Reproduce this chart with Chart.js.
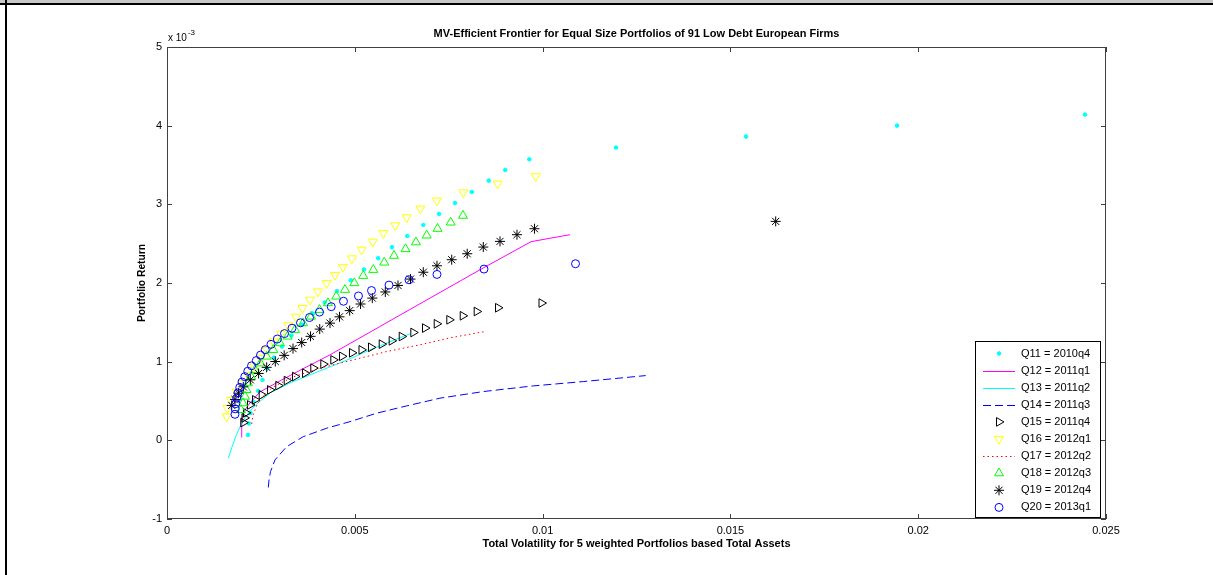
<!DOCTYPE html>
<html>
<head>
<meta charset="utf-8">
<script src="https://cdn.jsdelivr.net/npm/chart.js@4/dist/chart.umd.min.js"></script>
<style>
  html, body { margin: 0; padding: 0; background: #fff; }
  #wrap { position: relative; width: 1213px; height: 575px; overflow: hidden; }
  #topbar { position: absolute; left: 0; top: 0; width: 1213px; height: 3px; background: #c8c8c8; border-bottom: 2px solid #000; }
  #leftrule { position: absolute; left: 5px; top: 0; width: 2px; height: 575px; background: #000; }
  canvas { position: absolute; left: 0; top: 0; }
</style>
</head>
<body>
<div id="wrap">
  <canvas id="frontier" width="1213" height="575"></canvas>
  <div id="topbar"></div>
  <div id="leftrule"></div>
</div>
<script>
const TITLE = 'MV-Efficient Frontier for Equal Size Portfolios of 91 Low Debt European Firms';
const X_LABEL = 'Total Volatility for 5 weighted Portfolios based Total Assets';
const Y_LABEL = 'Portfolio Return';

const xTicks = [0, 0.005, 0.01, 0.015, 0.02, 0.025];
const yTicks = [-1, 0, 1, 2, 3, 4, 5];

const labels = ['Q11 = 2010q4', 'Q12 = 2011q1', 'Q13 = 2011q2', 'Q14 = 2011q3', 'Q15 = 2011q4',
                'Q16 = 2012q1', 'Q17 = 2012q2', 'Q18 = 2012q3', 'Q19 = 2012q4', 'Q20 = 2013q1'];

// volatility and return, both in units of 1e-3
const volQ11 = [2.157, 2.183, 2.223, 2.303, 2.423, 2.543, 2.662, 2.849, 3.062, 3.315, 3.594, 3.887, 4.199, 4.526, 4.891,
                5.245, 5.623, 5.990, 6.398, 6.824, 7.242, 7.668, 8.112, 8.565, 9.007, 9.646, 11.954, 15.415, 19.436, 24.441];
const retQ11 = [0.069, 0.215, 0.349, 0.489, 0.629, 0.769, 0.912, 1.052, 1.192, 1.332, 1.472, 1.612, 1.752, 1.897, 2.035,
                2.172, 2.315, 2.455, 2.597, 2.737, 2.877, 3.017, 3.157, 3.301, 3.437, 3.572, 3.721, 3.861, 4.001, 4.141];

const volQ12 = [1.989, 1.989, 1.997, 2.077, 2.210, 2.476, 3.009, 3.541, 4.340, 5.138, 6.203, 7.268, 8.333, 9.132, 9.691, 10.197, 10.730];
const retQ12 = [0.037, 0.158, 0.285, 0.387, 0.476, 0.616, 0.756, 0.890, 1.087, 1.303, 1.592, 1.880, 2.168, 2.378, 2.525, 2.569, 2.614];

const volQ13 = [1.632, 1.731, 1.837, 1.944, 2.077, 2.210, 2.423, 2.742, 3.275, 3.807, 4.340, 4.872, 5.405, 5.937, 6.470];
const retQ13 = [-0.228, -0.084, 0.056, 0.171, 0.285, 0.374, 0.476, 0.603, 0.730, 0.832, 0.934, 1.036, 1.150, 1.252, 1.354];

const volQ14 = [2.697, 2.716, 2.756, 2.875, 3.187, 3.629, 4.252, 4.872, 5.583, 6.382, 7.268, 8.421, 9.752, 11.084, 12.745];
const retQ14 = [-0.599, -0.504, -0.398, -0.249, -0.080, 0.047, 0.154, 0.238, 0.345, 0.438, 0.536, 0.620, 0.692, 0.747, 0.823];

const volQ15 = [2.031, 2.063, 2.103, 2.210, 2.343, 2.521, 2.742, 2.963, 3.187, 3.408, 3.674, 3.895, 4.161, 4.428, 4.659,
                4.925, 5.178, 5.431, 5.716, 5.982, 6.249, 6.558, 6.869, 7.181, 7.516, 7.873, 8.245, 8.813, 9.971];
const retQ15 = [0.225, 0.285, 0.349, 0.450, 0.514, 0.578, 0.641, 0.696, 0.760, 0.811, 0.854, 0.918, 0.968, 1.023, 1.068,
                1.112, 1.150, 1.182, 1.223, 1.265, 1.320, 1.371, 1.427, 1.481, 1.532, 1.583, 1.638, 1.685, 1.745];

const volQ16 = [1.589, 1.611, 1.704, 1.850, 1.997, 2.157, 2.316, 2.489, 2.662, 2.835, 3.035, 3.222, 3.435, 3.608, 3.807,
                4.020, 4.252, 4.473, 4.686, 4.925, 5.184, 5.479, 5.759, 6.078, 6.382, 6.744, 7.188, 7.889, 8.805, 9.816];
const retQ16 = [0.302, 0.408, 0.514, 0.620, 0.727, 0.832, 0.938, 1.045, 1.150, 1.256, 1.354, 1.462, 1.570, 1.681, 1.787,
                1.892, 1.999, 2.101, 2.204, 2.312, 2.423, 2.525, 2.633, 2.732, 2.834, 2.945, 3.047, 3.152, 3.263, 3.356];

const volQ17 = [2.255, 2.290, 2.396, 2.529, 2.830, 3.363, 4.073, 4.960, 5.849, 6.736, 7.535, 8.466];
const retQ17 = [0.209, 0.323, 0.450, 0.552, 0.680, 0.807, 0.918, 1.023, 1.129, 1.214, 1.303, 1.383];

const volQ18 = [1.970, 2.023, 2.077, 2.117, 2.157, 2.236, 2.343, 2.489, 2.654, 2.830, 3.009, 3.208, 3.408, 3.621, 3.834,
                4.060, 4.286, 4.507, 4.739, 4.987, 5.226, 5.493, 5.783, 6.044, 6.350, 6.629, 6.914, 7.202, 7.553, 7.881];
const retQ18 = [0.387, 0.472, 0.556, 0.641, 0.727, 0.811, 0.896, 0.979, 1.065, 1.150, 1.236, 1.320, 1.405, 1.490, 1.574,
                1.659, 1.745, 1.829, 1.914, 1.999, 2.092, 2.168, 2.261, 2.347, 2.432, 2.518, 2.605, 2.690, 2.770, 2.856];

const volQ19 = [1.723, 1.810, 1.904, 2.031, 2.218, 2.439, 2.654, 2.883, 3.120, 3.355, 3.586, 3.821, 4.066, 4.340, 4.593,
                4.864, 5.152, 5.466, 5.812, 6.150, 6.483, 6.824, 7.188, 7.580, 7.993, 8.421, 8.866, 9.318, 9.784, 16.206];
const retQ19 = [0.444, 0.520, 0.599, 0.680, 0.769, 0.850, 0.928, 1.002, 1.080, 1.166, 1.243, 1.322, 1.414, 1.490, 1.570,
                1.649, 1.733, 1.808, 1.886, 1.969, 2.050, 2.137, 2.219, 2.296, 2.372, 2.457, 2.529, 2.614, 2.690, 2.783];

const volQ20 = [1.810, 1.816, 1.832, 1.856, 1.890, 1.938, 1.997, 2.071, 2.151, 2.250, 2.378, 2.489, 2.617, 2.769, 2.937,
                3.128, 3.328, 3.554, 3.794, 4.060, 4.372, 4.699, 5.098, 5.445, 5.911, 6.443, 7.188, 8.440, 10.876];
const retQ20 = [0.331, 0.400, 0.467, 0.536, 0.604, 0.673, 0.741, 0.809, 0.878, 0.947, 1.014, 1.083, 1.152, 1.220, 1.288,
                1.357, 1.425, 1.494, 1.561, 1.630, 1.699, 1.768, 1.835, 1.904, 1.973, 2.041, 2.109, 2.177, 2.245];

const vols = [volQ11, volQ12, volQ13, volQ14, volQ15, volQ16, volQ17, volQ18, volQ19, volQ20];
const rets = [retQ11, retQ12, retQ13, retQ14, retQ15, retQ16, retQ17, retQ18, retQ19, retQ20];

// marker / line look for each quarter
const styles = [
  { color: '#00ffff', point: 'circle', radius: 1.8, filled: true },
  { color: '#ff00ff', dash: [] },
  { color: '#00ffff', dash: [] },
  { color: '#0000ff', dash: [8, 4] },
  { color: '#000000', point: 'triangle', rotation: 90, radius: 5 },
  { color: '#ffff00', point: 'triangle', rotation: 180, radius: 5.2 },
  { color: '#ff0000', dash: [1.5, 3] },
  { color: '#00ff00', point: 'triangle', rotation: 0, radius: 5.2 },
  { color: '#000000', point: 'star', radius: 5 },
  { color: '#0000ff', point: 'circle', radius: 4 }
];

const FONT = '"Liberation Sans", Arial, sans-serif';
const TICK = 5;

const datasets = labels.map((label, i) => {
  const st = styles[i];
  const base = {
    label,
    data: vols[i].map((v, k) => ({ x: v / 1000, y: rets[i][k] })),
    order: labels.length - i
  };
  if (st.dash) {
    return { ...base, showLine: true, pointRadius: 0, borderColor: st.color, borderWidth: 1, borderDash: st.dash, fill: false };
  }
  const bg = st.filled ? st.color : 'rgba(0,0,0,0)';
  return {
    ...base, showLine: false,
    pointStyle: st.point, pointRotation: st.rotation || 0, pointRadius: st.radius,
    borderColor: st.color, backgroundColor: bg,
    pointBorderColor: st.color, pointBackgroundColor: bg, pointBorderWidth: 1
  };
});

function drawMarker(ctx, st, x, y) {
  ctx.strokeStyle = st.color;
  ctx.fillStyle = st.filled ? st.color : 'rgba(0,0,0,0)';
  ctx.lineWidth = 1;
  Chart.helpers.drawPoint(ctx, { pointStyle: st.point, rotation: st.rotation || 0, radius: st.radius, borderWidth: 1 }, x, y);
}

// axes box, inward ticks, titles and the legend in the lower right
const matlabFrame = {
  id: 'matlabFrame',
  afterDraw(chart) {
    const { ctx, chartArea: a, scales: { x, y } } = chart;
    ctx.save();

    ctx.strokeStyle = '#404040';
    ctx.lineWidth = 1;
    ctx.strokeRect(a.left + 0.5, a.top + 0.5, a.right - a.left - 1, a.bottom - a.top - 1);
    ctx.beginPath();
    xTicks.forEach(v => {
      const px = Math.round(x.getPixelForValue(v)) + 0.5;
      ctx.moveTo(px, a.bottom); ctx.lineTo(px, a.bottom - TICK);
      ctx.moveTo(px, a.top); ctx.lineTo(px, a.top + TICK);
    });
    yTicks.forEach(v => {
      const py = Math.round(y.getPixelForValue(v)) + 0.5;
      ctx.moveTo(a.left, py); ctx.lineTo(a.left + TICK, py);
      ctx.moveTo(a.right, py); ctx.lineTo(a.right - TICK, py);
    });
    ctx.stroke();

    ctx.fillStyle = '#000';
    const cx = (a.left + a.right) / 2;
    ctx.textAlign = 'center';
    ctx.textBaseline = 'middle';
    ctx.font = 'bold 11px ' + FONT;
    ctx.fillText(TITLE, cx, 34, 430);
    ctx.fillText(X_LABEL, cx, 544, 327);
    ctx.save();
    ctx.translate(142, (a.top + a.bottom) / 2);
    ctx.rotate(-Math.PI / 2);
    ctx.fillText(Y_LABEL, 0, 0, 78);
    ctx.restore();

    // axis multiplier
    ctx.textAlign = 'left';
    ctx.textBaseline = 'alphabetic';
    ctx.font = '10px ' + FONT;
    ctx.fillText('x 10', a.left + 1, 41);
    const w = ctx.measureText('x 10').width;
    ctx.font = '8px ' + FONT;
    ctx.fillText('-3', a.left + 2 + w, 35);

    // legend
    const lx = 975, ly = 341, lw = 125, lh = 176;
    ctx.fillStyle = '#fff';
    ctx.fillRect(lx, ly, lw, lh);
    ctx.strokeStyle = '#000';
    ctx.strokeRect(lx + 0.5, ly + 0.5, lw, lh);
    ctx.font = '11px ' + FONT;
    ctx.textBaseline = 'middle';
    labels.forEach((label, i) => {
      const st = styles[i];
      const ey = ly + 12.5 + i * 17.1;
      if (st.dash) {
        ctx.save();
        ctx.strokeStyle = st.color;
        ctx.lineWidth = 1;
        ctx.setLineDash(st.dash);
        ctx.beginPath();
        ctx.moveTo(983, Math.round(ey) + 0.5);
        ctx.lineTo(1015, Math.round(ey) + 0.5);
        ctx.stroke();
        ctx.restore();
      } else {
        drawMarker(ctx, st, 999, ey);
      }
      ctx.fillStyle = '#000';
      ctx.fillText(label, 1021, ey);
    });
    ctx.restore();
  }
};

new Chart(document.getElementById('frontier'), {
  type: 'scatter',
  data: { datasets },
  options: {
    responsive: false,
    animation: false,
    events: [],
    layout: { padding: { top: 47, right: 107, left: 0, bottom: 0 } },
    plugins: { legend: { display: false }, tooltip: { enabled: false }, title: { display: false } },
    scales: {
      x: {
        type: 'linear', min: 0, max: 0.025,
        afterBuildTicks: s => { s.ticks = xTicks.map(v => ({ value: v })); },
        afterFit: s => { s.height = 56; },
        grid: { display: false, drawTicks: false },
        border: { display: false },
        ticks: { color: '#000', font: { family: FONT, size: 11 }, padding: 5, maxRotation: 0, autoSkip: false,
                 callback: v => String(+v.toFixed(3)) }
      },
      y: {
        type: 'linear', min: -1, max: 5,
        afterBuildTicks: s => { s.ticks = yTicks.map(v => ({ value: v })); },
        afterFit: s => { s.width = 167; },
        grid: { display: false, drawTicks: false },
        border: { display: false },
        ticks: { color: '#000', font: { family: FONT, size: 11 }, padding: 5, autoSkip: false,
                 callback: v => String(v) }
      }
    }
  },
  plugins: [matlabFrame]
});
</script>
</body>
</html>
